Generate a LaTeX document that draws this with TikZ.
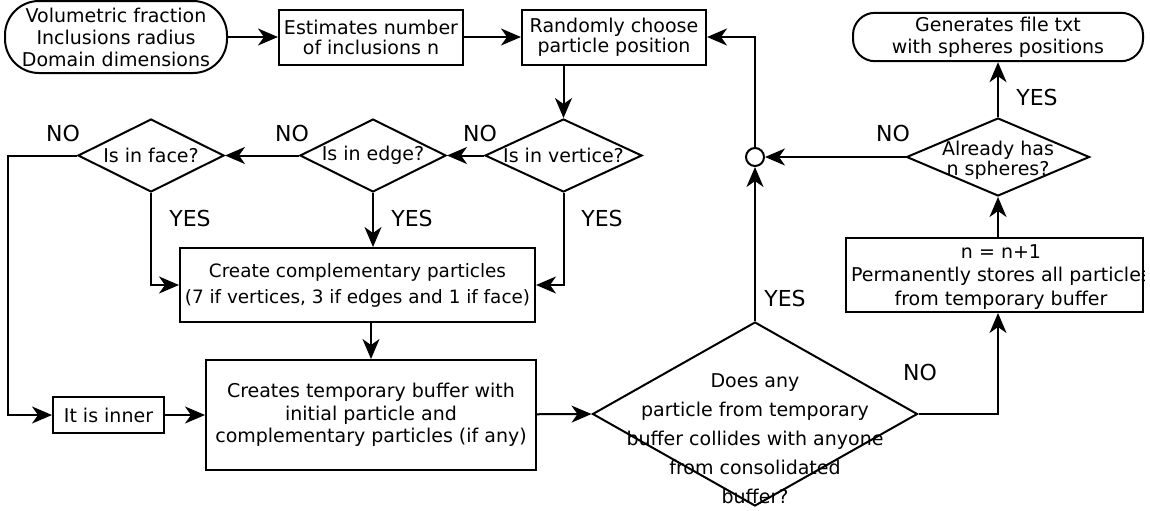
\documentclass[tikz,border=0pt]{standalone}
\usepackage{fontspec}
\setmainfont{DejaVu Sans}
\usetikzlibrary{positioning, shapes.geometric, arrows.meta}

\begin{document}
\begin{tikzpicture}[x=0.5pt, y=-0.5pt, line width=1pt,
	>={Stealth[length=10pt, width=8.5pt, inset=3pt]},
	txt/.style={font=\fontsize{9.5}{11}\selectfont, align=center},
	box/.style={rectangle, draw, txt, inner sep=2pt},
	decision/.style={diamond, draw, inner sep=0pt},
	answer/.style={font=\fontsize{11}{12}\selectfont}]
	\useasboundingbox (0,0) rectangle (1150,510);

	% top row
	\node[box, rounded corners=17pt, minimum width=111pt, minimum height=36pt] (in) at (116,37) {Volumetric fraction\\Inclusions radius\\Domain dimensions};
	\node[box, minimum width=92pt, minimum height=27.5pt, font=\fontsize{9.5}{10}\selectfont] (est) at (371,37) {Estimates number\\of inclusions n};
	\node[box, minimum width=92pt, minimum height=27.5pt, font=\fontsize{9.5}{10}\selectfont] (rand) at (614,37) {Randomly choose\\particle position};
	\node[box, rounded corners=11pt, minimum width=145pt, minimum height=23pt] (out) at (998,37) {Generates file txt\\with spheres positions};

	% position tests
	\node[decision, minimum width=78.5pt, minimum height=36.5pt, label={[txt]center:Is in vertice?}] (vert) at (563.5,155.5) {};
	\node[decision, minimum width=73pt, minimum height=36.5pt, label={[txt]center:Is in edge?}] (edge) at (373,155.5) {};
	\node[decision, minimum width=73pt, minimum height=36.5pt, label={[txt]center:Is in face?}] (face) at (151,155.5) {};

	\node[box, inner sep=1pt, minimum width=177.5pt, minimum height=37pt, font=\fontsize{9.2}{13}\selectfont] (comp) at (357.5,285) {Create complementary particles\\(7 if vertices, 3 if edges and 1 if face)};
	\node[box, minimum width=55.5pt, minimum height=18pt] (inner) at (108.5,415) {It is inner};
	\node[box, minimum width=165pt, minimum height=55pt, font=\fontsize{9.5}{11.25}\selectfont] (temp) at (371,415) {Creates temporary buffer with\\initial particle and\\complementary particles (if any)};

	% collision test
	\node[decision, minimum width=162.5pt, minimum height=92pt] (coll) at (755,414) {};
	\node[txt, font=\fontsize{9.5}{14.5}\selectfont] (colltxt) at (755,439) {Does any\\particle from temporary\\buffer collides with anyone\\from consolidated\\buffer?};
	\node[circle, draw, minimum size=9pt, inner sep=0pt] (junc) at (755,157) {};

	\node[decision, minimum width=91.5pt, minimum height=39pt] (done) at (998,157) {};
	\node[txt, font=\fontsize{9.5}{9}\selectfont] (donetxt) at (998,160) {Already has\\n spheres?};

	\node[rectangle, draw, minimum width=148.5pt, minimum height=37pt] (store) at (994.5,275) {};
	\begin{scope}
		\clip (store.south west) rectangle (store.north east);
		\node[txt, font=\fontsize{9.5}{11.75}\selectfont] (storetxt) at (1001,277) {n = n+1\\Permanently stores all particles\\from temporary buffer};
	\end{scope}

	\coordinate (lft) at (8,300);

	% connectors
	\draw[->] (in) -- (est);
	\draw[->] (est) -- (rand);
	\draw[->] (vert.north |- rand.south) -- (vert.north);
	\draw[->] (vert) -- (edge);
	\draw[->] (edge) -- (face);
	\draw[->] (face.west) -| (lft) |- (inner.west);
	\draw[->] (face.south) |- (comp.west);
	\draw[->] (edge.south) -- (edge.south |- comp.north);
	\draw[->] (vert.south) |- (comp.east);
	\draw[->] (temp.north |- comp.south) -- (temp.north);
	\draw[->] (inner) -- (temp);
	\draw[->] (temp) -- (coll.west);
	\draw[->] (coll.north) -- (junc.south);
	\draw[->] (coll.east) -| (store.south -| done.south);
	\draw[->] (done.south |- store.north) -- (done.south);
	\draw[->] (done.north) -- (out.south);
	\draw[->] (done.west) -- (junc.east);
	\draw[->] (junc.north) |- (rand.east);

	% answers
	\node[answer] (no1) at (63,133) {NO};
	\node[answer] (no2) at (292,133) {NO};
	\node[answer] (no3) at (480,133) {NO};
	\node[answer] (yes1) at (190,218) {YES};
	\node[answer] (yes2) at (412,218) {YES};
	\node[answer] (yes3) at (602,218) {YES};
	\node[answer] (yes4) at (785,298) {YES};
	\node[answer] (no4) at (920,372) {NO};
	\node[answer] (no5) at (893,133) {NO};
	\node[answer] (yes5) at (1037,97) {YES};

\end{tikzpicture}
\end{document}
